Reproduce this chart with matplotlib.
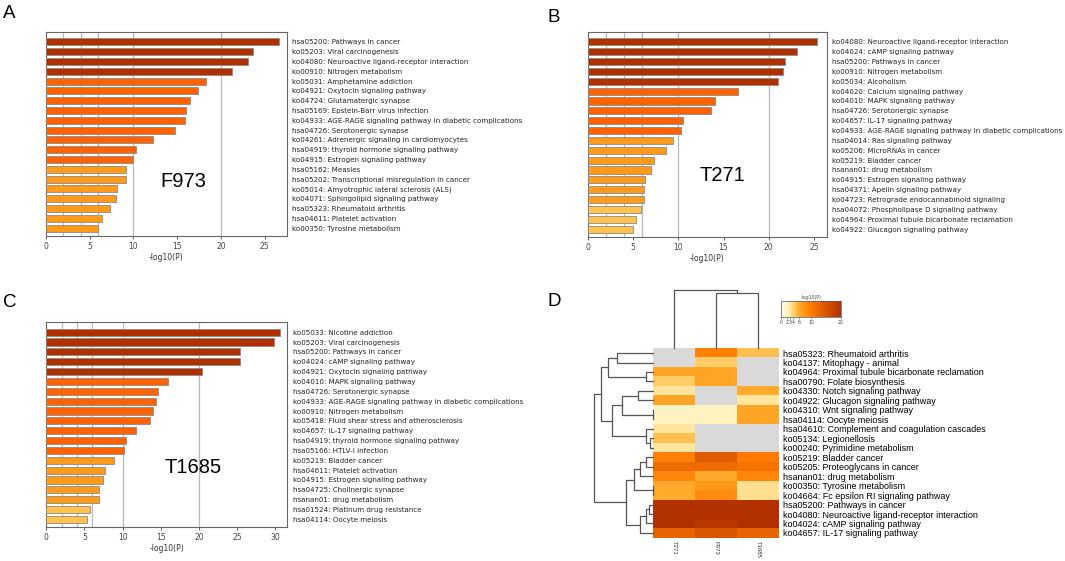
import numpy as np
import matplotlib
matplotlib.use("Agg")
import matplotlib.pyplot as plt
from matplotlib.colors import LinearSegmentedColormap, Normalize
from matplotlib.cm import ScalarMappable

"""Metascape-style enrichment panels A-C and clustered heatmap D"""

W, H = 1065, 561

# ---- panel A: F973 ----
labels_a = ["hsa05200: Pathways in cancer", "ko05203: Viral carcinogenesis",
            "ko04080: Neuroactive ligand-receptor interaction", "ko00910: Nitrogen metabolism",
            "ko05031: Amphetamine addiction", "ko04921: Oxytocin signaling pathway",
            "ko04724: Glutamatergic synapse", "hsa05169: Epstein-Barr virus infection",
            "ko04933: AGE-RAGE signaling pathway in diabetic complications", "hsa04726: Serotonergic synapse",
            "ko04261: Adrenergic signaling in cardiomyocytes", "hsa04919: thyroid hormone signaling pathway",
            "ko04915: Estrogen signaling pathway", "hsa05162: Measles",
            "hsa05202: Transcriptional misregulation in cancer", "ko05014: Amyotrophic lateral sclerosis (ALS)",
            "ko04071: Sphingolipid signaling pathway", "hsa05323: Rheumatoid arthritis",
            "hsa04611: Platelet activation", "ko00350: Tyrosine metabolism"]
vals_a = [26.6, 23.7, 23.1, 21.3, 18.35, 17.4, 16.5, 16.0, 15.9, 14.7,
          12.2, 10.3, 10.0, 9.2, 9.1, 8.1, 8.0, 7.3, 6.4, 6.0]

# ---- panel B: T271 ----
labels_b = ["ko04080: Neuroactive ligand-receptor interaction", "ko04024: cAMP signaling pathway",
            "hsa05200: Pathways in cancer", "ko00910: Nitrogen metabolism",
            "ko05034: Alcoholism", "ko04020: Calcium signaling pathway",
            "ko04010: MAPK signaling pathway", "hsa04726: Serotonergic synapse",
            "ko04657: IL-17 signaling pathway", "ko04933: AGE-RAGE signaling pathway in diabetic complications",
            "hsa04014: Ras signaling pathway", "ko05206: MicroRNAs in cancer",
            "ko05219: Bladder cancer", "hsanan01: drug metabolism",
            "ko04915: Estrogen signaling pathway", "hsa04371: Apelin signaling pathway",
            "ko04723: Retrograde endocannabinoid signaling", "hsa04072: Phospholipase D signaling pathway",
            "ko04964: Proximal tubule bicarbonate reclamation", "ko04922: Glucagon signaling pathway"]
vals_b = [25.3, 23.1, 21.8, 21.6, 21.0, 16.6, 14.1, 13.6, 10.5, 10.3,
          9.4, 8.6, 7.3, 7.0, 6.3, 6.25, 6.2, 5.85, 5.35, 4.95]

# ---- panel C: T1685 ----
labels_c = ["ko05033: Nicotine addiction", "ko05203: Viral carcinogenesis",
            "hsa05200: Pathways in cancer", "ko04024: cAMP signaling pathway",
            "ko04921: Oxytocin signaling pathway", "ko04010: MAPK signaling pathway",
            "hsa04726: Serotonergic synapse", "ko04933: AGE-RAGE signaling pathway in diabetic complications",
            "ko00910: Nitrogen metabolism", "ko05418: Fluid shear stress and atherosclerosis",
            "ko04657: IL-17 signaling pathway", "hsa04919: thyroid hormone signaling pathway",
            "hsa05166: HTLV-I infection", "ko05219: Bladder cancer",
            "hsa04611: Platelet activation", "ko04915: Estrogen signaling pathway",
            "hsa04725: Cholinergic synapse", "hsanan01: drug metabolism",
            "hsa01524: Platinum drug resistance", "hsa04114: Oocyte meiosis"]
vals_c = [30.6, 29.8, 25.4, 25.35, 20.4, 16.0, 14.7, 14.35, 14.0, 13.6,
          11.7, 10.4, 10.2, 8.85, 7.7, 7.45, 6.9, 6.85, 5.75, 5.4]

# ---- panel D: heatmap ----
hm_cols = ["T271", "F973", "T1685"]
hm_rows = ["hsa05323: Rheumatoid arthritis", "ko04137: Mitophagy - animal",
           "ko04964: Proximal tubule bicarbonate reclamation", "hsa00790: Folate biosynthesis",
           "ko04330: Notch signaling pathway", "ko04922: Glucagon signaling pathway",
           "ko04310: Wnt signaling pathway", "hsa04114: Oocyte meiosis",
           "hsa04610: Complement and coagulation cascades", "ko05134: Legionellosis",
           "ko00240: Pyrimidine metabolism", "ko05219: Bladder cancer",
           "ko05205: Proteoglycans in cancer", "hsanan01: drug metabolism",
           "ko00350: Tyrosine metabolism", "ko04664: Fc epsilon RI signaling pathway",
           "hsa05200: Pathways in cancer", "ko04080: Neuroactive ligand-receptor interaction",
           "ko04024: cAMP signaling pathway", "ko04657: IL-17 signaling pathway"]
nan = np.nan
hm_t271 = [nan, nan, 6.5, 4.5, 3.0, 6.5, 2.0, 2.0, 3.0, 5.0, 3.0, 9.5, 12.0, 9.0, 6.0, 6.0, 25, 25, 25, 13.0]
hm_f973 = [9.5, 4.5, 6.5, 6.5, nan, nan, 2.0, 2.0, nan, nan, nan, 14.0, 12.0, 6.0, 7.5, 8.5, 25, 25, 19.0, 15.0]
hm_t1685 = [5.0, nan, nan, nan, 6.0, 3.0, 6.5, 6.5, nan, nan, nan, 10.0, 11.0, 9.0, 3.5, 3.5, 25, 25, 25, 13.0]

# row dendrogram merges: (child, child, distance); leaves 0..19, new nodes 20..
row_links = [(0, 1, 35.8), (2, 3, 7.5), (20, 21, 44.5), (4, 5, 14.5), (6, 7, 0.5),
             (23, 24, 30.5), (9, 10, 3.5), (8, 26, 7.5), (25, 27, 39.8), (22, 28, 50.8),
             (11, 12, 7.5), (30, 13, 12.5), (14, 15, 0.5), (31, 32, 19.2), (16, 17, 4.5),
             (34, 18, 7.5), (35, 19, 12.5), (33, 36, 26.5), (29, 37, 57.8)]
col_links = [(1, 2, 0.94), (0, 3, 1.0)]

bar_bins = [6, 10, 20]
bar_colors = ["#ffc24a", "#ff9a1a", "#ff6200", "#b03000"]
hm_cmap = LinearSegmentedColormap.from_list(
    "mscape", [(0.0, "#fffdf0"), (0.1, "#fff3c2"), (0.2, "#ffd77a"),
               (0.3, "#ffaa2a"), (0.5, "#ff7b00"), (1.0, "#b33000")])
hm_cmap.set_bad("#d9d9d9")


def px_axes(fig, l, t, r, b):
    return fig.add_axes([l / W, 1 - b / H, (r - l) / W, (b - t) / H])


def bar_panel(ax, vals, labels, xmax, tag, tag_xy):
    y = np.arange(len(vals))
    cols = [bar_colors[i] for i in np.digitize(vals, bar_bins)]
    for g in [2, 4, 6, 10, 20]:
        ax.axvline(g, color="#b8b8b8", lw=0.9, zorder=1)
    ax.barh(y, vals, height=0.72, color=cols, edgecolor="#8a8a8a", linewidth=0.6, zorder=3)
    ax.set_xlim(0, xmax)
    ax.set_ylim(19.8, -1.0)
    ax.set_xticks(range(0, int(xmax) + 1, 5))
    ax.tick_params(axis="x", labelsize=5.5, length=2.5, width=0.6, colors="#444444", pad=1.5)
    ax.yaxis.tick_right()
    ax.set_yticks(y)
    ax.set_yticklabels(labels, fontsize=5.15, color="#222222")
    ax.tick_params(axis="y", length=0, pad=4)
    ax.set_xlabel("-log10(P)", fontsize=5.5, color="#333333", labelpad=1.5)
    for s in ax.spines.values():
        s.set_color("#666666")
        s.set_linewidth(0.8)
    ax.text(tag_xy[0], tag_xy[1], tag, transform=ax.transAxes, fontsize=14.5,
            family="Liberation Sans", ha="center", va="center")


def dendro_coords(links, n_leaves):
    pos = {i: float(i) for i in range(n_leaves)}
    hgt = {i: 0.0 for i in range(n_leaves)}
    segs = []
    for k, (a, b, h) in enumerate(links):
        node = n_leaves + k
        segs.append(([hgt[a], h, h, hgt[b]], [pos[a], pos[a], pos[b], pos[b]]))
        pos[node] = (pos[a] + pos[b]) / 2
        hgt[node] = h
    return segs


fig = plt.figure(figsize=(W / 100, H / 100), dpi=100)

ax_a = px_axes(fig, 46, 32, 286.5, 236)
bar_panel(ax_a, vals_a, labels_a, 27.5, "F973", (0.57, 0.265))
ax_b = px_axes(fig, 588, 32, 826.5, 237)
bar_panel(ax_b, vals_b, labels_b, 26.4, "T271", (0.565, 0.30))
ax_c = px_axes(fig, 46.3, 322.3, 287.3, 527.3)
bar_panel(ax_c, vals_c, labels_c, 31.6, "T1685", (0.61, 0.29))

# heatmap
data = np.array([hm_t271, hm_f973, hm_t1685]).T
norm = Normalize(vmin=0, vmax=20)
ax_h = px_axes(fig, 653.3, 348.3, 779.3, 537.7)
ax_h.imshow(np.ma.masked_invalid(data), cmap=hm_cmap, norm=norm, aspect="auto",
            interpolation="nearest")
ax_h.yaxis.tick_right()
ax_h.set_yticks(range(len(hm_rows)))
ax_h.set_yticklabels(hm_rows, fontsize=6.5, family="Liberation Sans")
ax_h.set_xticks(range(len(hm_cols)))
ax_h.set_xticklabels(hm_cols, fontsize=4.3, rotation=270, family="Liberation Sans", color="#333333")
ax_h.tick_params(length=0, pad=2.5)
for s in ax_h.spines.values():
    s.set_visible(False)

# row dendrogram
ax_rd = px_axes(fig, 594, 348.3, 653.3, 537.7)
for xs, ys in dendro_coords(row_links, len(hm_rows)):
    ax_rd.plot(xs, ys, color="#555555", lw=0.9, clip_on=False)
ax_rd.set_xlim(57.8, 0)
ax_rd.set_ylim(19.5, -0.5)
ax_rd.axis("off")

# column dendrogram
ax_cd = px_axes(fig, 653.3, 289.7, 779.3, 348.3)
for xs, ys in dendro_coords(col_links, len(hm_cols)):
    ax_cd.plot(ys, xs, color="#555555", lw=0.9, clip_on=False)
ax_cd.set_xlim(-0.5, 2.5)
ax_cd.set_ylim(0, 1.0)
ax_cd.axis("off")

# colorbar
cax = px_axes(fig, 781, 301, 841, 317)
cb = fig.colorbar(ScalarMappable(norm=norm, cmap=hm_cmap), cax=cax, orientation="horizontal")
cb.set_ticks([0, 2, 3, 4, 6, 10, 20])
cb.ax.tick_params(labelsize=3.3, length=1.2, width=0.4, pad=0.8, colors="#444444")
cb.outline.set_linewidth(0.5)
cb.outline.set_edgecolor("#555555")
cax.set_title("-log10(P)", fontsize=3.3, pad=1.5, color="#444444")

# panel letters
for letter, (x, y) in {"A": (9.5, 14), "B": (554, 18), "C": (10, 302.5), "D": (554, 301.7)}.items():
    fig.text(x / W, 1 - y / H, letter, fontsize=13.5, family="Liberation Sans",
             ha="center", va="center")

fig.savefig("out.png", dpi=100)
